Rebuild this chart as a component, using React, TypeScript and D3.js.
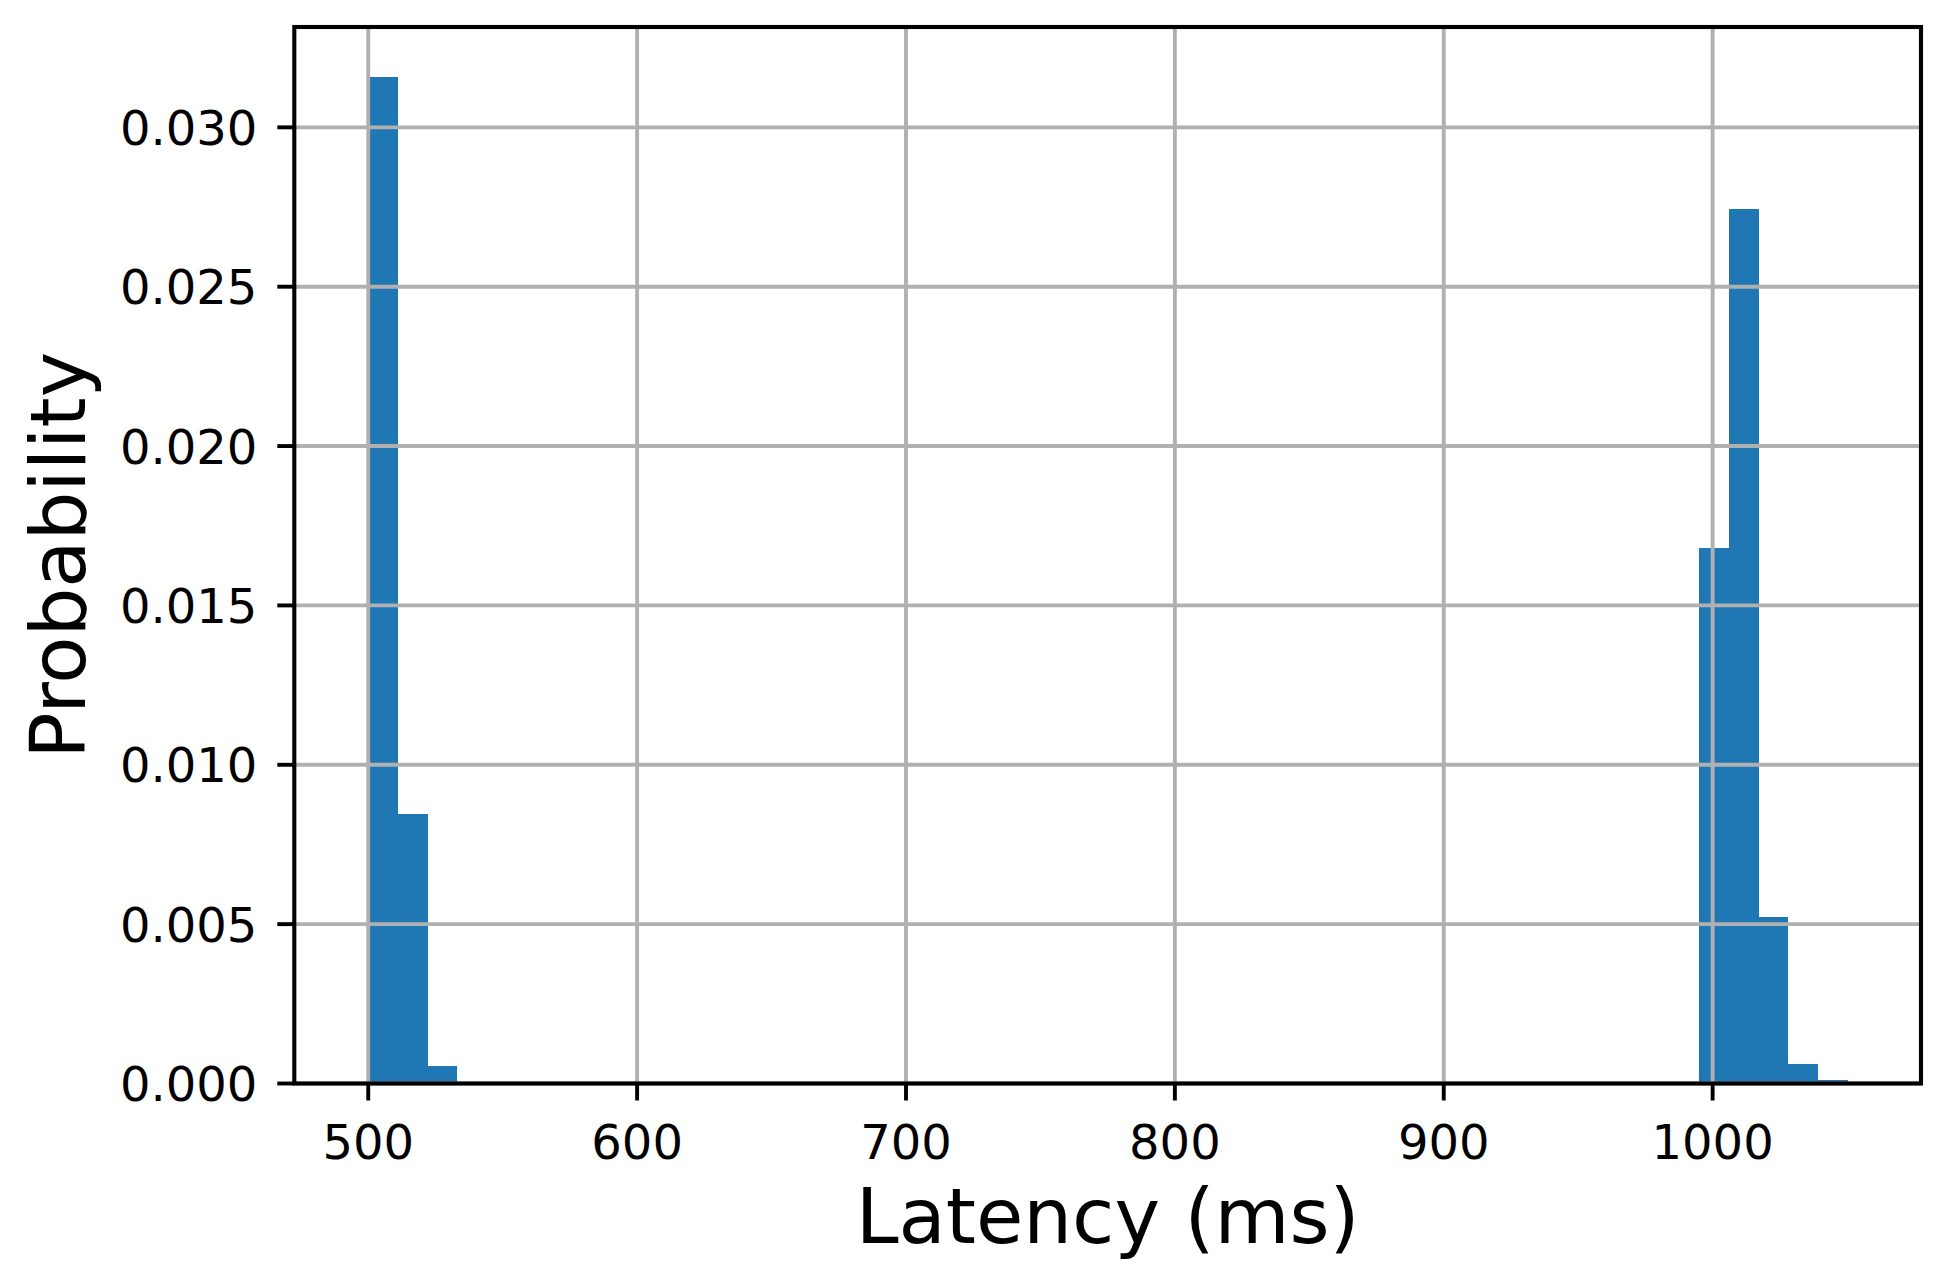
import React, { useRef, useEffect } from 'react';
import * as d3 from 'd3';

// histogram bins (ms) that have non-zero density, all bins are 11 ms wide
const binStarts = [500, 511, 522, 995, 1006, 1017, 1028, 1039];
const binWidth = 11;
const densities = [0.03157, 0.00845, 0.00055, 0.0168, 0.02744, 0.00522, 0.0006, 0.00012];
const xTicks = [500, 600, 700, 800, 900, 1000];
const yTicks = [0, 0.005, 0.01, 0.015, 0.02, 0.025, 0.03];

const W = 1944;
const H = 1284;

const App = () => {
  const ref = useRef<SVGSVGElement>(null);

  useEffect(() => {
    const svg = d3.select(ref.current);
    svg.selectAll('*').remove();

    const left = 294.3, right = 1921, top = 27, bottom = 1083.5;
    const lw = 4.1;
    const tickLen = 17;
    const font = 'DejaVu Sans';

    // matplotlib style 5% margins on x, 5% headroom on y
    const lo = binStarts[0];
    const hi = binStarts[binStarts.length - 1] + binWidth;
    const pad = (hi - lo) * 0.05;
    const x = d3.scaleLinear().domain([lo - pad, hi + pad]).range([left, right]);
    const y = d3.scaleLinear().domain([0, d3.max(densities)! * 1.05]).range([bottom, top]);

    // bars (crisp edges so neighbours don't show a seam)
    svg.append('g')
      .attr('shape-rendering', 'crispEdges')
      .selectAll('rect')
      .data(binStarts)
      .enter()
      .append('rect')
      .attr('x', d => x(d))
      .attr('width', d => x(d + binWidth) - x(d) + 0.5)
      .attr('y', (d, i) => y(densities[i]))
      .attr('height', (d, i) => y(0) - y(densities[i]))
      .attr('fill', '#1f77b4');

    // grid on top of bars
    const grid = svg.append('g').attr('stroke', '#b0b0b0').attr('stroke-width', 3.9);
    xTicks.forEach(t => {
      grid.append('line').attr('x1', x(t)).attr('x2', x(t)).attr('y1', top).attr('y2', bottom);
    });
    yTicks.forEach(t => {
      grid.append('line').attr('x1', left).attr('x2', right).attr('y1', y(t)).attr('y2', y(t));
    });

    // spines
    svg.append('rect')
      .attr('x', left).attr('y', top)
      .attr('width', right - left).attr('height', bottom - top)
      .attr('fill', 'none').attr('stroke', '#000').attr('stroke-width', lw)
      .attr('stroke-linejoin', 'miter');

    // x ticks
    const xt = svg.append('g');
    xTicks.forEach(t => {
      xt.append('line')
        .attr('x1', x(t)).attr('x2', x(t))
        .attr('y1', bottom).attr('y2', bottom + tickLen)
        .attr('stroke', '#000').attr('stroke-width', 3.9);
      xt.append('text')
        .attr('x', x(t)).attr('y', 1159)
        .attr('text-anchor', 'middle')
        .attr('font-family', font).attr('font-size', 48)
        .text(t);
    });

    // y ticks
    const yt = svg.append('g');
    const fmt = d3.format('.3f');
    yTicks.forEach(t => {
      yt.append('line')
        .attr('x1', left - tickLen).attr('x2', left)
        .attr('y1', y(t)).attr('y2', y(t))
        .attr('stroke', '#000').attr('stroke-width', 3.9);
      yt.append('text')
        .attr('x', left - tickLen - 20).attr('y', y(t) + 17.5)
        .attr('text-anchor', 'end')
        .attr('font-family', font).attr('font-size', 48)
        .text(fmt(t));
    });

    // axis labels
    svg.append('text')
      .attr('x', (left + right) / 2).attr('y', 1243)
      .attr('text-anchor', 'middle')
      .attr('font-family', font).attr('font-size', 77)
      .text('Latency (ms)');

    svg.append('text')
      .attr('transform', `translate(85, ${(top + bottom) / 2}) rotate(-90)`)
      .attr('text-anchor', 'middle')
      .attr('font-family', font).attr('font-size', 77)
      .text('Probability');
  }, []);

  return (
    <svg
      ref={ref}
      width={W}
      height={H}
      style={{ position: 'absolute', left: 0, top: 0, background: '#fff' }}
    />
  );
};

export default App;
